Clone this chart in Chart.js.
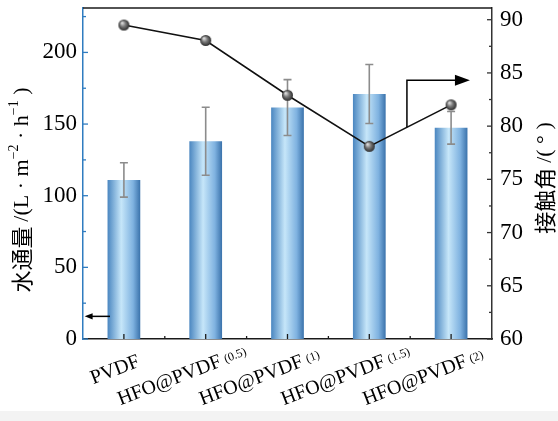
<!DOCTYPE html>
<html>
<head>
<meta charset="utf-8">
<script src="https://cdn.jsdelivr.net/npm/chart.js@4.4.0/dist/chart.umd.min.js"></script>
<style>
  body { margin: 0; background: #f3f3f3; }
  #wrap { width: 558px; height: 411px; background: #fff; }
</style>
</head>
<body>
<div id="wrap"><canvas id="chart"></canvas></div>
<script>
// data
const categories = ['PVDF', 'HFO@PVDF', 'HFO@PVDF', 'HFO@PVDF', 'HFO@PVDF'];
const categorySubs = ['', '(0.5)', '(1)', '(1.5)', '(2)'];
const fluxValues = [111, 138, 161.5, 171, 147.4];
const fluxErrors = [12, 23.7, 19.5, 20.6, 11.4];
const angleValues = [89.5, 88.05, 82.9, 78.1, 82.0];
const fluxRange = [0, 231];
const angleRange = [60, 91.1];
// arrows, in data units: [categoryIndex, value]
const fluxArrow = [[-0.17, 15.8], [-0.48, 15.8]];
const angleArrow = [[3.46, 79.9], [3.46, 84.3], [4.23, 84.3]];

const SERIF = '"Liberation Serif", "Times New Roman", serif';
const CJK = '"Noto Sans CJK SC", sans-serif';
const AXIS_BLUE = '#2f7cc0';

function makeSphere(r) {
    const c = document.createElement('canvas');
    c.width = c.height = 2 * r + 2;
    const g = c.getContext('2d');
    const m = r + 1;
    const grad = g.createRadialGradient(m - r * 0.35, m - r * 0.4, r * 0.1, m, m, r);
    grad.addColorStop(0, '#dcdcdc');
    grad.addColorStop(0.45, '#7a7a7a');
    grad.addColorStop(1, '#2c2c2c');
    g.fillStyle = grad;
    g.beginPath();
    g.arc(m, m, r, 0, Math.PI * 2);
    g.fill();
    return c;
}

function barGradient(ctx) {
    const chart = ctx.chart;
    const xs = chart.scales.x;
    if (!chart.chartArea || !xs || ctx.dataIndex === undefined) return '#8fc0e6';
    const cx = xs.getPixelForValue(ctx.dataIndex);
    const half = xs.width / categories.length * 0.4 / 2;
    const g = chart.ctx.createLinearGradient(cx - half, 0, cx + half, 0);
    g.addColorStop(0, '#4a86c0');
    g.addColorStop(0.42, '#c6e6f9');
    g.addColorStop(0.78, '#7fb2e0');
    g.addColorStop(1, '#3a72ab');
    return g;
}

function arrowHead(c, x1, y1, x2, y2, len, w) {
    const a = Math.atan2(y2 - y1, x2 - x1);
    c.beginPath();
    c.moveTo(x2, y2);
    c.lineTo(x2 - len * Math.cos(a) + w * Math.sin(a), y2 - len * Math.sin(a) - w * Math.cos(a));
    c.lineTo(x2 - len * Math.cos(a) - w * Math.sin(a), y2 - len * Math.sin(a) + w * Math.cos(a));
    c.closePath();
    c.fill();
}

// draws text pieces one after the other: [text, font, raise]
function drawRuns(c, runs) {
    let total = 0;
    runs.forEach(r => { c.font = r[1]; total += c.measureText(r[0]).width; });
    let x = -total / 2;
    runs.forEach(r => {
        c.font = r[1];
        c.fillText(r[0], x, -(r[2] || 0));
        x += c.measureText(r[0]).width;
    });
}

function noPadding(s) {
    s.paddingTop = 0;
    s.paddingBottom = 0;
    s.paddingLeft = 0;
    s.paddingRight = 0;
}

const errorBars = {
    id: 'errorBars',
    afterDatasetDraw(chart, args) {
        if (args.index !== 0) return;
        const c = chart.ctx, xs = chart.scales.x, ys = chart.scales.y;
        c.save();
        c.strokeStyle = '#8c8c8c';
        c.lineWidth = 1.6;
        fluxValues.forEach((v, i) => {
            const x = xs.getPixelForValue(i);
            const top = ys.getPixelForValue(v + fluxErrors[i]);
            const bot = ys.getPixelForValue(v - fluxErrors[i]);
            c.beginPath();
            c.moveTo(x, top); c.lineTo(x, bot);
            c.moveTo(x - 4, top); c.lineTo(x + 4, top);
            c.moveTo(x - 4, bot); c.lineTo(x + 4, bot);
            c.stroke();
        });
        c.restore();
    }
};

const decorations = {
    id: 'decorations',
    afterDraw(chart) {
        const c = chart.ctx, a = chart.chartArea;
        const xs = chart.scales.x, ys = chart.scales.y, y1 = chart.scales.y1;
        c.save();
        // top frame line
        c.strokeStyle = '#1a1a1a';
        c.lineWidth = 1.5;
        c.beginPath(); c.moveTo(a.left, a.top); c.lineTo(a.right, a.top); c.stroke();

        // inside ticks, left axis
        c.strokeStyle = AXIS_BLUE;
        c.lineWidth = 1.3;
        for (let v = 0; v <= fluxRange[1]; v += 25) {
            const y = ys.getPixelForValue(v);
            const len = v % 50 === 0 ? 5 : 3;
            c.beginPath(); c.moveTo(a.left, y); c.lineTo(a.left + len, y); c.stroke();
        }
        // inside ticks, right axis
        c.strokeStyle = '#333';
        for (let v = angleRange[0]; v <= angleRange[1]; v += 2.5) {
            const y = y1.getPixelForValue(v);
            const len = v % 5 === 0 ? 5 : 3;
            c.beginPath(); c.moveTo(a.right, y); c.lineTo(a.right - len, y); c.stroke();
        }
        // bottom ticks
        c.strokeStyle = '#1a1a1a';
        for (let i = 0; i < categories.length; i++) {
            const x = xs.getPixelForValue(i);
            c.beginPath(); c.moveTo(x, a.bottom); c.lineTo(x, a.bottom - 5); c.stroke();
            if (i > 0) {
                const xm = xs.getPixelForValue(i - 0.5);
                c.beginPath(); c.moveTo(xm, a.bottom); c.lineTo(xm, a.bottom - 3); c.stroke();
            }
        }

        // arrows
        c.strokeStyle = '#000';
        c.fillStyle = '#000';
        c.lineWidth = 1.5;
        let p = fluxArrow.map(q => [xs.getPixelForValue(q[0]), ys.getPixelForValue(q[1])]);
        c.beginPath(); c.moveTo(p[0][0], p[0][1]); c.lineTo(p[1][0] + 6, p[1][1]); c.stroke();
        arrowHead(c, p[0][0], p[0][1], p[1][0], p[1][1], 8, 3.2);
        p = angleArrow.map(q => [xs.getPixelForValue(q[0]), y1.getPixelForValue(q[1])]);
        c.beginPath(); c.moveTo(p[0][0], p[0][1]); c.lineTo(p[1][0], p[1][1]); c.lineTo(p[2][0] - 12, p[2][1]); c.stroke();
        arrowHead(c, p[1][0], p[1][1], p[2][0], p[2][1], 15, 5.5);

        // category labels, rotated
        c.fillStyle = '#000';
        c.textBaseline = 'alphabetic';
        categories.forEach((name, i) => {
            const x = xs.getPixelForValue(i) + 17;
            const y = a.bottom + 27;
            c.save();
            c.translate(x, y);
            c.rotate(-21 * Math.PI / 180);
            c.font = '20px ' + SERIF;
            c.textAlign = 'right';
            c.fillText(name, 0, 0);
            if (categorySubs[i]) {
                c.font = '12px ' + SERIF;
                c.textAlign = 'left';
                c.fillText(categorySubs[i], 4, -2);
            }
            c.restore();
        });

        // axis titles
        c.textAlign = 'left';
        c.textBaseline = 'middle';
        c.save();
        c.translate(22, 190);
        c.rotate(-Math.PI / 2);
        drawRuns(c, [
            ['水通量 ', '22px ' + CJK],
            ['/(L · m', '22px ' + SERIF],
            ['−2', '14px ' + SERIF, 8],
            [' · h', '22px ' + SERIF],
            ['−1', '14px ' + SERIF, 8],
            [' )', '22px ' + SERIF]
        ]);
        c.restore();
        c.save();
        c.translate(545, 178);
        c.rotate(-Math.PI / 2);
        drawRuns(c, [
            ['接触角 ', '22px ' + CJK],
            ['/( ° )', '22px ' + SERIF]
        ]);
        c.restore();
        c.restore();
    }
};

new Chart(document.getElementById('chart'), {
    data: {
        labels: categories,
        datasets: [{
            type: 'bar',
            data: fluxValues,
            yAxisID: 'y',
            backgroundColor: barGradient,
            borderWidth: 0,
            barPercentage: 0.4,
            categoryPercentage: 1.0,
            order: 2
        }, {
            type: 'line',
            data: angleValues,
            yAxisID: 'y1',
            borderColor: '#111',
            borderWidth: 1.6,
            pointStyle: makeSphere(5.5),
            pointRadius: 6,
            tension: 0,
            order: 1
        }]
    },
    options: {
        responsive: true,
        maintainAspectRatio: false,
        animation: false,
        layout: { padding: { top: 8, left: 0, right: 0, bottom: 0 } },
        plugins: { legend: { display: false }, tooltip: { enabled: false } },
        scales: {
            x: {
                type: 'category',
                offset: true,
                grid: { display: false, drawTicks: false },
                border: { color: '#1a1a1a', width: 1.5 },
                ticks: { display: false },
                afterFit(s) { s.height = 72; noPadding(s); }
            },
            y: {
                position: 'left',
                min: fluxRange[0],
                max: fluxRange[1],
                grid: { display: false, drawTicks: false },
                border: { color: AXIS_BLUE, width: 1.5 },
                ticks: {
                    stepSize: 50,
                    includeBounds: false,
                    padding: 6,
                    color: '#000',
                    font: { family: SERIF, size: 23 },
                    callback: v => (v % 50 === 0 ? v : '')
                },
                afterFit(s) { s.width = 83; noPadding(s); }
            },
            y1: {
                position: 'right',
                min: angleRange[0],
                max: angleRange[1],
                grid: { display: false, drawTicks: false },
                border: { color: '#333', width: 1.5 },
                ticks: {
                    stepSize: 5,
                    includeBounds: false,
                    padding: 8,
                    color: '#000',
                    font: { family: SERIF, size: 23 },
                    callback: v => (v % 5 === 0 ? v : '')
                },
                afterFit(s) { s.width = 66; noPadding(s); }
            }
        }
    },
    plugins: [errorBars, decorations]
});
</script>
</body>
</html>
